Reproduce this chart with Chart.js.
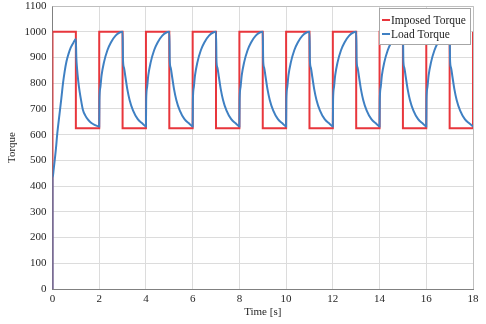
<!DOCTYPE html>
<html>
<head>
<meta charset="utf-8">
<script src="https://cdn.jsdelivr.net/npm/chart.js@4.4.0/dist/chart.umd.min.js"></script>
<style>
  html, body { margin: 0; padding: 0; background: #fff; }
  #wrap { width: 486px; height: 324px; }
</style>
</head>
<body>
<div id="wrap"><canvas id="torqueChart" width="486" height="324"></canvas></div>
<script>
// imposed torque (square wave)
const imposedTime = [0, 0, 1, 1, 2, 2, 3, 3, 4, 4, 5, 5, 6, 6, 7, 7, 8, 8, 9, 9,
  10, 10, 11, 11, 12, 12, 13, 13, 14, 14, 15, 15, 16, 16, 17, 17, 18, 18]
const imposedTorque = [0, 1000, 1000, 625, 625, 1000, 1000, 625, 625, 1000, 1000, 625, 625, 1000, 1000, 625, 625, 1000, 1000, 625,
  625, 1000, 1000, 625, 625, 1000, 1000, 625, 625, 1000, 1000, 625, 625, 1000, 1000, 625, 625, 1000]

// load torque, estimated point by point
const loadTime = [
  0, 0, 0.05, 0.1, 0.15, 0.2, 0.3, 0.38, 0.45, 0.52, 0.6, 0.68, 0.78, 0.9, 1.0,
  1.02, 1.05, 1.1, 1.16, 1.23, 1.3, 1.4, 1.52, 1.65, 1.8, 2.0,
  2.01, 2.05, 2.1, 2.2, 2.35, 2.5, 2.7, 3.0,
  3.02, 3.06, 3.12, 3.2, 3.3, 3.45, 3.65, 3.85, 4.0,
  4.01, 4.05, 4.1, 4.2, 4.35, 4.5, 4.7, 5.0,
  5.02, 5.06, 5.12, 5.2, 5.3, 5.45, 5.65, 5.85, 6.0,
  6.01, 6.05, 6.1, 6.2, 6.35, 6.5, 6.7, 7.0,
  7.02, 7.06, 7.12, 7.2, 7.3, 7.45, 7.65, 7.85, 8.0,
  8.01, 8.05, 8.1, 8.2, 8.35, 8.5, 8.7, 9.0,
  9.02, 9.06, 9.12, 9.2, 9.3, 9.45, 9.65, 9.85, 10.0,
  10.01, 10.05, 10.1, 10.2, 10.35, 10.5, 10.7, 11.0,
  11.02, 11.06, 11.12, 11.2, 11.3, 11.45, 11.65, 11.85, 12.0,
  12.01, 12.05, 12.1, 12.2, 12.35, 12.5, 12.7, 13.0,
  13.02, 13.06, 13.12, 13.2, 13.3, 13.45, 13.65, 13.85, 14.0,
  14.01, 14.05, 14.1, 14.2, 14.35, 14.5, 14.7, 15.0,
  15.02, 15.06, 15.12, 15.2, 15.3, 15.45, 15.65, 15.85, 16.0,
  16.01, 16.05, 16.1, 16.2, 16.35, 16.5, 16.7, 17.0,
  17.02, 17.06, 17.12, 17.2, 17.3, 17.45, 17.65, 17.85, 18.0
]
const loadTorque = [
  0, 430, 465, 505, 548, 600, 680, 742, 800, 845, 885, 912, 938, 958, 972,
  900, 858, 810, 768, 730, 697, 675, 658, 646, 638, 632,
  735, 785, 830, 880, 928, 958, 985, 1000,
  885, 860, 825, 778, 735, 693, 660, 643, 632,
  735, 785, 830, 880, 928, 958, 985, 1000,
  885, 860, 825, 778, 735, 693, 660, 643, 632,
  735, 785, 830, 880, 928, 958, 985, 1000,
  885, 860, 825, 778, 735, 693, 660, 643, 632,
  735, 785, 830, 880, 928, 958, 985, 1000,
  885, 860, 825, 778, 735, 693, 660, 643, 632,
  735, 785, 830, 880, 928, 958, 985, 1000,
  885, 860, 825, 778, 735, 693, 660, 643, 632,
  735, 785, 830, 880, 928, 958, 985, 1000,
  885, 860, 825, 778, 735, 693, 660, 643, 632,
  735, 785, 830, 880, 928, 958, 985, 1000,
  885, 860, 825, 778, 735, 693, 660, 643, 632,
  735, 785, 830, 880, 928, 958, 985, 1000,
  885, 860, 825, 778, 735, 693, 660, 643, 632
]

const seriesNames = ['Imposed Torque', 'Load Torque']
const seriesColors = ['#e8363c', '#3f80c3']

function toPoints(xs, ys) {
  let pts = []
  for (let i = 0; i < xs.length; i++) {
    pts.push({ x: xs[i], y: ys[i] })
  }
  return pts
}

Chart.defaults.font.family = '"Liberation Serif", "Times New Roman", serif'
Chart.defaults.font.size = 11
Chart.defaults.color = '#262626'

// frame on top and right, plus the boxed legend
const framePlugin = {
  id: 'frame',
  afterDraw(chart) {
    const ctx = chart.ctx, a = chart.chartArea
    ctx.save()
    ctx.strokeStyle = '#bfbfbf'
    ctx.lineWidth = 1
    ctx.beginPath()
    ctx.moveTo(a.left, a.top + 0.5)
    ctx.lineTo(a.right + 0.5, a.top + 0.5)
    ctx.lineTo(a.right + 0.5, a.bottom)
    ctx.stroke()

    // legend
    const bx = 379.5, by = 8.5, bw = 91, bh = 36
    ctx.fillStyle = '#fff'
    ctx.fillRect(bx, by, bw, bh)
    ctx.strokeStyle = '#a6a6a6'
    ctx.strokeRect(bx, by, bw, bh)
    ctx.font = '11.5px "Liberation Serif", serif'
    ctx.textBaseline = 'middle'
    ctx.fillStyle = '#222'
    for (let i = 0; i < seriesNames.length; i++) {
      const y = 20 + i * 14
      ctx.strokeStyle = seriesColors[i]
      ctx.lineWidth = 2
      ctx.beginPath()
      ctx.moveTo(382, y)
      ctx.lineTo(390, y)
      ctx.stroke()
      ctx.fillText(seriesNames[i], 391, y + 0.5)
    }
    ctx.restore()
  }
}

new Chart(document.getElementById('torqueChart'), {
  type: 'line',
  data: {
    datasets: [{
      label: seriesNames[0],
      data: toPoints(imposedTime, imposedTorque),
      borderColor: seriesColors[0],
      borderWidth: 2,
      pointRadius: 0,
      order: 2
    }, {
      label: seriesNames[1],
      data: toPoints(loadTime, loadTorque),
      borderColor: seriesColors[1],
      borderWidth: 2,
      pointRadius: 0,
      cubicInterpolationMode: 'monotone',
      order: 1
    }]
  },
  options: {
    responsive: false,
    animation: false,
    layout: { padding: { top: 6, right: 13, left: 0, bottom: 0 } },
    plugins: { legend: { display: false }, tooltip: { enabled: false } },
    scales: {
      x: {
        type: 'linear',
        min: 0,
        max: 18,
        ticks: { stepSize: 2, padding: 4, callback: v => String(v) },
        grid: { color: '#dcdcdc', drawTicks: false },
        border: { color: '#808080' },
        title: { display: true, text: 'Time [s]', padding: { top: 0, bottom: 5 } },
        afterFit(scale) { scale.height = 35 }
      },
      y: {
        min: 0,
        max: 1100,
        ticks: { stepSize: 100, padding: 6, callback: v => String(v) },
        grid: { color: '#dcdcdc', drawTicks: false },
        border: { color: '#808080' },
        title: { display: true, text: 'Torque', padding: { top: 6, bottom: 0 } },
        afterFit(scale) {
          scale.width = 52.5
          scale.paddingTop = 0
          scale.paddingBottom = 0
        }
      }
    }
  },
  plugins: [framePlugin]
})
</script>
</body>
</html>
